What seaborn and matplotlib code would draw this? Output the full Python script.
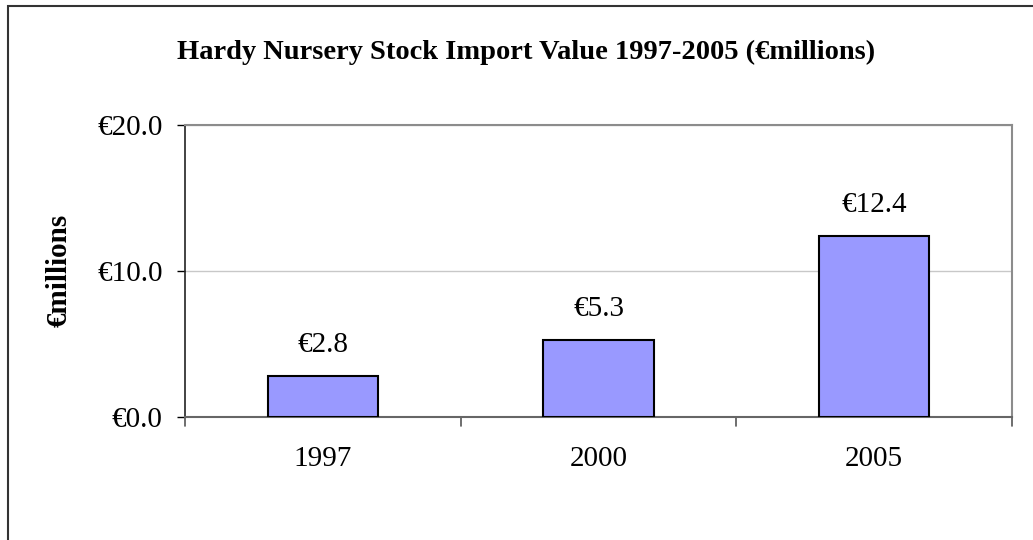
import matplotlib
matplotlib.use("Agg")
import matplotlib.pyplot as plt
import seaborn as sns
import pandas as pd
from matplotlib.patches import Rectangle

# Chart data
years = ["1997", "2000", "2005"]
values = [2.8, 5.3, 12.4]
y_ticks = [0, 10, 20]

df = pd.DataFrame({"Year": years, "Value": values})

sns.set_style("white")
plt.rcParams['font.family'] = ['Liberation Serif', 'DejaVu Serif']
plt.rcParams['text.color'] = 'black'
plt.rcParams['xtick.color'] = 'black'
plt.rcParams['ytick.color'] = 'black'
plt.rcParams['axes.labelcolor'] = 'black'

fig = plt.figure(figsize=(10.33, 5.4), dpi=100)

# outer chart frame (cut off at right and bottom)
fig.patches.append(Rectangle((8 / 1033, -0.1), 1.2, 1 - 6 / 540 + 0.1,
                             transform=fig.transFigure, fill=False,
                             edgecolor='#333333', linewidth=1.5, zorder=0))

ax = fig.add_axes([185 / 1033, 1 - 417 / 540, 827 / 1033, 292 / 540])
sns.barplot(data=df, x="Year", y="Value", ax=ax, color='#9999FF',
            saturation=1, width=0.4, edgecolor='black', linewidth=1.5, zorder=3)

ax.set_ylim(0, 20)
ax.set_xlim(-0.5, 2.5)
ax.set_yticks(y_ticks)
ax.set_yticklabels([f"€{v:.1f}" for v in y_ticks], fontsize=21)
ax.tick_params(axis='y', length=6, width=1, color='black', pad=10, direction='out', left=True)
ax.set_xticks([0, 1, 2])
ax.set_xticklabels(years, fontsize=21)
ax.tick_params(axis='x', length=0, pad=21)
# ticks between categories
for xb in [-0.5, 0.5, 1.5, 2.5]:
    ax.plot([xb, xb], [0, -0.03], transform=ax.get_xaxis_transform(),
            color='#555555', linewidth=1.2, clip_on=False)

ax.yaxis.grid(True, color='#c8c8c8', linewidth=1)
ax.set_axisbelow(True)
for side in ['top', 'right']:
    ax.spines[side].set_color('#8c8c8c')
    ax.spines[side].set_linewidth(1.5)
ax.spines['left'].set_color('#222222')
ax.spines['left'].set_linewidth(1.2)
ax.spines['bottom'].set_color('#666666')
ax.spines['bottom'].set_linewidth(1.5)

ax.bar_label(ax.containers[0], labels=[f"€{v:.1f}" for v in values],
             fontsize=21, padding=13)

ax.set_xlabel("")
ax.set_ylabel("€millions", fontsize=21, fontweight='bold', labelpad=0)
ax.yaxis.set_label_coords(73 / 1033, 1 - 270 / 540, transform=fig.transFigure)

fig.text(526 / 1033, 1 - 52 / 540, "Hardy Nursery Stock Import Value 1997-2005 (€millions)",
         ha='center', va='center', fontsize=20.5, fontweight='bold')

fig.savefig("out.png", dpi=100)
